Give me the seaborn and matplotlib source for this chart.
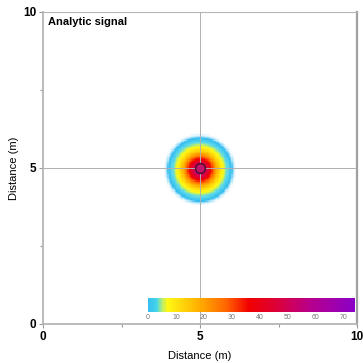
import numpy as np
import pandas as pd
import matplotlib
matplotlib.use("Agg")
import matplotlib.pyplot as plt
from matplotlib.colors import LinearSegmentedColormap, Normalize
from matplotlib.cm import ScalarMappable
from matplotlib.transforms import ScaledTranslation
import seaborn as sns

# ---- data ----
title = "Analytic signal"
x_label = "Distance (m)"
y_label = "Distance (m)"
axis_ticks = [0, 5, 10]
cbar_ticks = [0, 10, 20, 30, 40, 50, 60, 70]
source_x = [5.0]
source_y = [5.0]
field_center_y = [4.95]
# radial profile of the analytic signal around the source (distance m -> value)
profile_r = [0.0, 0.15, 0.25, 0.36, 0.48, 0.6, 0.73, 0.85, 0.95, 1.05, 1.18]
profile_v = [72.0, 55.0, 45.0, 34.0, 22.0, 13.0, 7.0, 3.5, 2.0, 0.8, 0.0]

# ---- build grid ----
n = 250
extent = 10.0
cell = extent / n
centers = (np.arange(n) + 0.5) * cell
X, Y = np.meshgrid(centers, centers)
R = np.hypot(X - source_x[0], Y - field_center_y[0])
Z = np.interp(R, profile_r, profile_v)
df = pd.DataFrame(Z)

vmax = 74
bar_anchors = [(0, "#35bdf0"), (3, "#45d6ea"), (5, "#b8ee70"), (7, "#fff814"),
               (18, "#ffb000"), (28, "#ff6400"), (36, "#f20000"),
               (46, "#dc0038"), (58, "#b8008c"), (74, "#8a00c8")]
map_anchors = [(0, "#ffffff"), (0.4, "#e2f4fc"), (1.2, "#35bdf0"),
               (3, "#5ad8ea")] + bar_anchors[2:]
cmap_bar = LinearSegmentedColormap.from_list(
    "bar", [(v / vmax, c) for v, c in bar_anchors])
cmap_map = LinearSegmentedColormap.from_list(
    "map", [(v / vmax, c) for v, c in map_anchors], N=1024)

plt.rcParams["font.family"] = ["Liberation Sans", "DejaVu Sans"]
fig = plt.figure(figsize=(3.63, 3.63), dpi=100)
ax = fig.add_axes([43 / 363, 1 - 324 / 363, 314 / 363, 312 / 363])
cax = ax.inset_axes([0.334, 0.038, 0.66, 0.045])

sns.heatmap(df, ax=ax, cmap=cmap_map, vmin=0, vmax=vmax, cbar=False,
            xticklabels=False, yticklabels=False, rasterized=True)
cbar = fig.colorbar(ScalarMappable(norm=Normalize(0, vmax), cmap=cmap_bar),
                    cax=cax, orientation="horizontal")

ax.set_xlim(0, n)
ax.set_ylim(0, n)
ax.set_aspect("auto")

for s in ["left", "bottom", "top", "right"]:
    ax.spines[s].set_visible(True)
    ax.spines[s].set_color("#b5b5b5")
ax.spines["left"].set_linewidth(1.3)
ax.spines["bottom"].set_linewidth(1.3)
ax.spines["right"].set_linewidth(1.6)
ax.spines["right"].set_color("#a0a0a0")
ax.spines["top"].set_linewidth(0.8)

tick_pos = [t / cell for t in axis_ticks]
ax.set_xticks(tick_pos)
ax.set_xticklabels([str(t) for t in axis_ticks], fontsize=8.5, fontweight="bold")
ax.set_yticks(tick_pos)
ax.set_yticklabels([str(t) for t in axis_ticks], fontsize=8.5, fontweight="bold",
                   rotation=0)
last = ax.get_xticklabels()[-1]
last.set_transform(last.get_transform() +
                   ScaledTranslation(-3 / 100, 0, fig.dpi_scale_trans))
ax.set_xticks([2.5 / cell, 7.5 / cell], minor=True)
ax.set_yticks([2.5 / cell, 7.5 / cell], minor=True)
ax.tick_params(which="major", length=3, width=0.8, color="#999999", pad=2,
               left=True, bottom=True)
ax.tick_params(which="minor", length=2, width=0.8, color="#999999",
               left=True, bottom=True)

ax.axvline(5 / cell, color="#b0b0b0", lw=0.7, zorder=3)
ax.axhline(5 / cell, color="#b0b0b0", lw=0.7, zorder=3)

ax.scatter([source_x[0] / cell], [source_y[0] / cell], s=50, c="#c0146e",
           edgecolors="#4a1020", linewidths=1.0, zorder=4)

ax.set_xlabel(x_label, fontsize=8, labelpad=6)
ax.set_ylabel(y_label, fontsize=8, labelpad=3)
ax.text(0.015, 0.983, title, transform=ax.transAxes, fontsize=8,
        fontweight="bold", va="top", ha="left")

cbar.outline.set_visible(False)
cbar.set_ticks(cbar_ticks)
cax.tick_params(length=0, labelsize=5, labelcolor="#777777", pad=1.5)

fig.savefig("out.png", dpi=100, facecolor="white")
